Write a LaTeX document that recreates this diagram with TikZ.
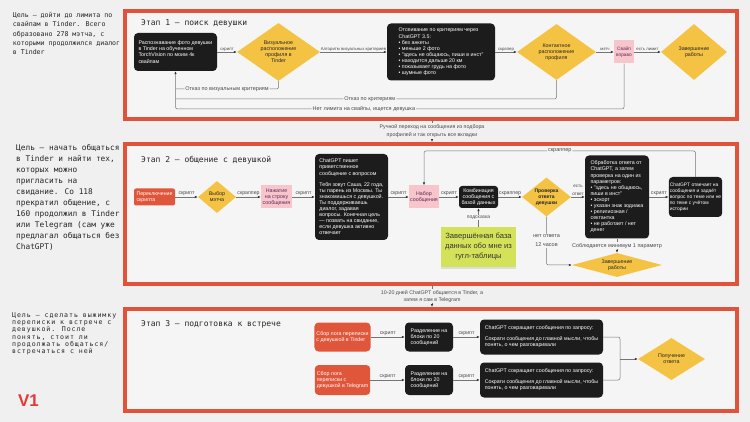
\documentclass[tikz,border=0pt]{standalone}
\usepackage{fontspec}
\setmainfont{Liberation Sans}
\newfontfamily\monofont{DejaVu Sans Mono}
\newfontfamily\monowide[LetterSpace=14]{DejaVu Sans Mono}
\usetikzlibrary{shapes.geometric,arrows.meta,positioning,shadows}

\definecolor{bgpage}{HTML}{F0F0F0}
\definecolor{bgstage}{HTML}{F5F5F5}
\definecolor{framered}{HTML}{E0533A}
\definecolor{boxdark}{HTML}{1C1C1C}
\definecolor{diayellow}{HTML}{F5C344}
\definecolor{boxpink}{HTML}{F8C5CC}
\definecolor{pinktext}{HTML}{5A2A55}
\definecolor{boxorange}{HTML}{E0563A}
\definecolor{notegreen}{HTML}{D4E25A}
\definecolor{linegray}{HTML}{757575}
\definecolor{labelgray}{HTML}{4A4A4A}
\definecolor{vred}{HTML}{E53935}

\newcommand{\bxfont}{\fontsize{5.3}{6.1}\selectfont}
\newcommand{\lblfont}{\fontsize{5.2}{6}\selectfont}
\newcommand{\inlfont}{\fontsize{5.5}{6.5}\selectfont}
\newcommand{\stagefont}{\monofont\fontsize{8}{9}\selectfont}

\begin{document}
\begin{tikzpicture}[x=1pt, y=-1pt,
    >={Latex[length=3pt,width=2.4pt,color=black!80]},
    stage/.style={draw=framered, line width=3.2pt, fill=bgstage},
    stagetitle/.style={anchor=west, font=\stagefont, text=black!85, inner sep=0pt},
    goal/.style={anchor=north west, align=left, inner sep=0pt, text=black!85},
    darkbox/.style={rectangle, rounded corners=4pt, fill=boxdark, text=white, font=\bxfont, align=left, inner sep=2pt},
    pinkbox/.style={rectangle, fill=boxpink, text=pinktext, font=\bxfont, align=center, inner sep=1pt},
    orangebox/.style={rectangle, rounded corners=4pt, fill=boxorange, text=white, font=\bxfont, align=left, inner sep=2pt},
    choice/.style={diamond, fill=diayellow, text=black!85, font=\bxfont, align=center, inner sep=0pt, shape aspect=1.4},
    note/.style={rectangle, fill=notegreen, text=black!80, align=center, font=\fontsize{7.6}{10}\selectfont, drop shadow={opacity=0.2, shadow xshift=0pt, shadow yshift=-2.5pt}},
    conn/.style={->, draw=linegray, line width=0.5pt},
    back/.style={draw=linegray, line width=0.5pt, rounded corners=2pt},
    lbl/.style={font=\lblfont, text=labelgray, inner sep=0.8pt, above},
    smalllbl/.style={lbl, font=\fontsize{4.3}{5}\selectfont},
    inline/.style={font=\inlfont, text=labelgray, fill=bgstage, inner sep=1pt, align=center}
]
\useasboundingbox (0,0) rectangle (750,422);
\fill[bgpage] (0,0) rectangle (750,422);

% goals on the left
\node[goal, font=\monofont\fontsize{6.6}{9.3}\selectfont] (goal1) at (12.7,12.3) {Цель – дойти до лимита по\\свайпам в Tinder. Всего\\образовано 278 мэтча, с\\которыми продолжился диалог\\в Tinder};
\node[goal, font=\monofont\fontsize{7.8}{11.1}\selectfont] (goal2) at (16,143.8) {Цель – начать общаться\\в Tinder и найти тех,\\которых можно\\пригласить на\\свидание. Со 118\\прекратил общение, с\\160 продолжил в Tinder\\или Telegram (сам уже\\предлагал общаться без\\ChatGPT)};
\node[goal, font=\monowide\fontsize{6.6}{7.3}\selectfont] (goal3) at (12,312.3) {Цель – сделать выжимку\\переписки к встрече с\\девушкой. После\\понять, стоит ли\\продолжать общаться/\\встречаться с ней};
\node[font=\bfseries\fontsize{17}{17}\selectfont, text=vred, inner sep=0pt] (ver) at (28.5,401) {V1};

% stage frames
\draw[stage] (125,11) rectangle (737,119);
\draw[stage] (125,144) rectangle (737,284);
\draw[stage] (125,309) rectangle (737,411);
\node[stagetitle] (title1) at (141,23) {Этап 1 – поиск девушки};
\node[stagetitle] (title2) at (141,160) {Этап 2 – общение с девушкой};
\node[stagetitle] (title3) at (141,324) {Этап 3 – подготовка к встрече};

% stage 1
\node[darkbox, minimum width=83pt, minimum height=38pt] (recog) at (175.5,52) {Распознавание фото девушки\\в Tinder на обученном\\TorchVision по моим 4к\\свайпам};
\node[choice, minimum width=83pt, minimum height=58pt] (vis) at (278.5,52) {Визуальное\\расположение\\профиля в\\Tinder};
\node[darkbox, minimum width=108pt, minimum height=57pt] (filter) at (441,52) {Отсеивание по критериям через\\ChatGPT 3.5:\\• без анкеты\\• меньше 2 фото\\• "здесь не общаюсь, пиши в инст"\\• находится дальше 20 км\\• показывает грудь на фото\\• шумные фото\hspace{14pt}\mbox{}};
\node[choice, minimum width=79pt, minimum height=56pt] (ctx) at (556.5,52) {Контактное\\расположение\\профиля};
\node[pinkbox, minimum width=20pt, minimum height=23pt, font=\fontsize{4.8}{5.8}\selectfont] (swipe) at (624,52) {Свайп\\вправо};
\node[choice, minimum width=66pt, minimum height=56pt] (done1) at (694,52) {Завершение\\работы};

\draw[conn] (recog) -- node[smalllbl]{скрипт} (vis);
\draw[conn] (vis) -- node[smalllbl]{Алгоритм визуальных критериев} (filter);
\draw[conn] (filter) -- node[smalllbl]{скрапер} (ctx);
\draw[conn] (ctx) -- node[smalllbl]{мэтч} (swipe);
\draw[conn] (swipe) -- node[smalllbl]{есть лимит} (done1);

\coordinate (ret1) at (175.5,89);
\coordinate (ret2) at (175.5,99);
\coordinate (ret3) at (175.5,109);
\draw[back] (vis.south) |- node[inline, pos=0.75]{Отказ по визуальным критериям} (ret1);
\draw[back] (ctx.south) |- node[inline, pos=0.745]{Отказ по критериям} (ret2);
\draw[back, ->] (swipe.south) |- node[inline, pos=0.79]{Нет лимита на свайпы, ищется девушка} (ret3) -- (recog.south);

% stage 1 -> stage 2
\coordinate (tr1a) at (432,120.5);
\coordinate (tr1b) at (432,142);
\draw[conn] (tr1a) -- node[inline, fill=bgpage, font=\fontsize{5.3}{8.5}\selectfont]{Ручной переход на сообщения из подбора\\профилей и так открыть все вкладки} (tr1b);

% stage 2
\node[orangebox, rounded corners=2pt, minimum width=41pt, minimum height=17pt, font=\fontsize{5.2}{5.8}\selectfont] (switch) at (154.5,197) {Переключение\\скрипта\hspace{12pt}\mbox{}};
\node[choice, minimum width=38pt, minimum height=32pt] (pick) at (217,197) {Выбор\\мэтча};
\node[pinkbox, minimum width=31pt, minimum height=23pt] (tap) at (276.5,197) {Нажатие\\на строку\\сообщения};
\node[darkbox, minimum width=73pt, minimum height=86pt] (greet) at (351.5,197) {ChatGPT пишет\\приветственное\\сообщение с вопросом\\[5pt]Тебя зовут Саша, 22 года,\\ты парень из Москвы. Ты\\знакомишься с девушкой.\\Ты поддерживаешь\\диалог, задавая\\вопросы. Конечная цель\\— позвать на свидание,\\если девушка активно\\отвечает};
\node[pinkbox, minimum width=30pt, minimum height=23pt] (type) at (424,197) {Набор\\сообщения};
\node[darkbox, align=center, rounded corners=3pt, minimum width=39pt, minimum height=22pt] (combo) at (478.5,197) {Комбинация\\сообщения с\\базой данных};
\node[choice, minimum width=49pt, minimum height=39pt, font=\fontsize{5}{5.8}\selectfont\bfseries] (check) at (546.5,197) {Проверка\\ответа\\девушки};
\node[darkbox, minimum width=64pt, minimum height=83pt] (proc) at (617,197) {Обработка ответа от\\ChatGPT, а затем\\проверка на один из\\параметров:\\• "здесь не общаюсь,\\пиши в инст"\\• эскорт\\• указан знак зодиака\\• религиозная /\\сектантка\\• не работает / нет\\денег};
\node[darkbox, inner sep=1pt, minimum width=53pt, minimum height=40pt, font=\fontsize{4.9}{6}\selectfont] (reply) at (695.5,197) {ChatGPT отвечает на\\сообщения и задаёт\\вопрос по теме или не\\по теме с учётом\\истории};
\node[choice, minimum width=90pt, minimum height=24pt, shape aspect=3.5] (done2) at (617,265) {Завершение\\работы};
\node[note, minimum width=75pt, minimum height=40pt] (db) at (478.5,247) {Завершённая база\\данных обо мне из\\гугл-таблицы};

\draw[conn] (switch) -- node[lbl]{скрипт} (pick);
\draw[conn] (pick) -- node[lbl]{скраппер} (tap);
\draw[conn] (tap) -- node[lbl]{скрипт} (greet);
\draw[conn] (greet) -- node[lbl]{скрипт} (type);
\draw[conn] (type) -- node[lbl]{скрипт} (combo);
\draw[conn] (combo) -- node[lbl]{скраппер} (check);
\draw[conn] (check) -- node[lbl, align=center, font=\fontsize{4.6}{8}\selectfont]{есть\\ответ} (proc);
\draw[conn] (proc) -- node[lbl]{скрипт} (reply);

\coordinate (loopR) at (695.5,151);
\coordinate (loopL) at (424,151);
\draw[conn, rounded corners=2pt] (reply.north) -- (loopR) -- node[inline]{скраппер} (loopL) -- (type.north);
\coordinate (noans) at (546.5,265);
\draw[conn, rounded corners=2pt] (check.south) -- node[inline, font=\fontsize{5.5}{9}\selectfont]{нет ответа\\12 часов} (noans) -- (done2.west);
\draw[conn] (proc.south) -- node[inline]{Соблюдается минимум 1 параметр} (done2.north);
\draw[conn] (db.north) -- node[inline, font=\fontsize{5}{6}\selectfont]{подсказка} (combo.south);

% stage 2 -> stage 3
\coordinate (tr2a) at (432,285.5);
\coordinate (tr2b) at (432,307);
\draw[conn] (tr2a) -- node[inline, fill=bgpage, font=\fontsize{5.3}{7}\selectfont]{10-20 дней ChatGPT общается в Tinder, а\\затем я сам в Telegram} (tr2b);

% stage 3
\node[orangebox, minimum width=55pt, minimum height=29pt] (logT) at (342.5,337) {Сбор лога переписки\\с девушкой в Tinder};
\node[darkbox, minimum width=48pt, minimum height=29pt] (splitT) at (429,337) {Разделение на\\блоки по 20\\сообщений\hspace{8pt}\mbox{}};
\node[orangebox, minimum width=55pt, minimum height=30pt] (logG) at (342.5,380) {Сбор лога\\переписки с\\девушкой в Telegram};
\node[darkbox, minimum width=48pt, minimum height=30pt] (splitG) at (429,380) {Разделение на\\блоки по 20\\сообщений\hspace{8pt}\mbox{}};
\node[darkbox, minimum width=123pt, minimum height=35pt] (sumT) at (541.5,337) {ChatGPT сокращает сообщения по запросу:\\[5pt]Сократи сообщения до главной мысли, чтобы\\понять, о чем разговаривали};
\node[darkbox, minimum width=123pt, minimum height=35pt] (sumG) at (541.5,380) {ChatGPT сокращает сообщения по запросу:\\[5pt]Сократи сообщения до главной мысли, чтобы\\понять, о чем разговаривали};
\node[choice, minimum width=67pt, minimum height=42pt] (answer) at (671.5,359) {Получение\\ответа};

\draw[conn] (logT) -- node[lbl]{скрипт} (splitT);
\draw[conn] (splitT) -- node[lbl]{скрипт} (sumT);
\draw[conn] (logG) -- node[lbl]{скрипт} (splitG);
\draw[conn] (splitG) -- node[lbl]{скрипт} (sumG);
\coordinate (merge) at (620,359);
\draw[back] (sumT.east) -| (merge);
\draw[back] (sumG.east) -| (merge);
\draw[conn] (merge) -- (answer);

\end{tikzpicture}
\end{document}
